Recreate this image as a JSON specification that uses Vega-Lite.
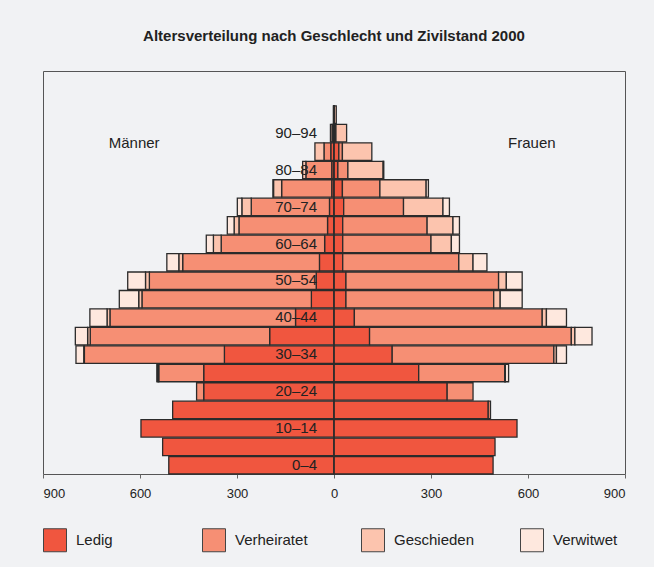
{
  "$schema": "https://vega.github.io/schema/vega-lite/v6.json",
  "width": 582,
  "height": 403,
  "autosize": {"type": "none"},
  "padding": {"left": 43, "top": 71, "right": 29, "bottom": 93},
  "background": "#f1f2f4",
  "config": {
    "font": "Liberation Sans",
    "view": {"stroke": "#555555", "strokeWidth": 1}
  },
  "title": {
    "text": "Altersverteilung nach Geschlecht und Zivilstand 2000",
    "fontSize": 15,
    "fontWeight": "bold",
    "color": "#222222",
    "anchor": "middle",
    "offset": 27
  },
  "datasets": {
    "pop": [
      {"sex": "M", "age": "0–4", "from": 0, "to": 5, "Ledig": -511, "Verheiratet": 0, "Geschieden": 0, "Verwitwet": 0},
      {"sex": "M", "age": "5–9", "from": 5, "to": 10, "Ledig": -530, "Verheiratet": 0, "Geschieden": 0, "Verwitwet": 0},
      {"sex": "M", "age": "10–14", "from": 10, "to": 15, "Ledig": -597, "Verheiratet": 0, "Geschieden": 0, "Verwitwet": 0},
      {"sex": "M", "age": "15–19", "from": 15, "to": 20, "Ledig": -499, "Verheiratet": 0, "Geschieden": 0, "Verwitwet": 0},
      {"sex": "M", "age": "20–24", "from": 20, "to": 25, "Ledig": -403, "Verheiratet": -22, "Geschieden": 0, "Verwitwet": 0},
      {"sex": "M", "age": "25–29", "from": 25, "to": 30, "Ledig": -403, "Verheiratet": -139, "Geschieden": -3, "Verwitwet": -3},
      {"sex": "M", "age": "30–34", "from": 30, "to": 35, "Ledig": -339, "Verheiratet": -433, "Geschieden": -2, "Verwitwet": -24},
      {"sex": "M", "age": "35–39", "from": 35, "to": 40, "Ledig": -199, "Verheiratet": -555, "Geschieden": -8, "Verwitwet": -38},
      {"sex": "M", "age": "40–44", "from": 40, "to": 45, "Ledig": -119, "Verheiratet": -574, "Geschieden": -9, "Verwitwet": -53},
      {"sex": "M", "age": "45–49", "from": 45, "to": 50, "Ledig": -70, "Verheiratet": -524, "Geschieden": -10, "Verwitwet": -60},
      {"sex": "M", "age": "50–54", "from": 50, "to": 55, "Ledig": -55, "Verheiratet": -516, "Geschieden": -12, "Verwitwet": -55},
      {"sex": "M", "age": "55–59", "from": 55, "to": 60, "Ledig": -45, "Verheiratet": -423, "Geschieden": -12, "Verwitwet": -37},
      {"sex": "M", "age": "60–64", "from": 60, "to": 65, "Ledig": -29, "Verheiratet": -320, "Geschieden": -24, "Verwitwet": -22},
      {"sex": "M", "age": "65–69", "from": 65, "to": 70, "Ledig": -20, "Verheiratet": -274, "Geschieden": -15, "Verwitwet": -21},
      {"sex": "M", "age": "70–74", "from": 70, "to": 75, "Ledig": -14, "Verheiratet": -242, "Geschieden": -29, "Verwitwet": -14},
      {"sex": "M", "age": "75–79", "from": 75, "to": 80, "Ledig": -7, "Verheiratet": -155, "Geschieden": -25, "Verwitwet": -2},
      {"sex": "M", "age": "80–84", "from": 80, "to": 85, "Ledig": -7, "Verheiratet": -80, "Geschieden": -10, "Verwitwet": 0},
      {"sex": "M", "age": "85–89", "from": 85, "to": 90, "Ledig": -10, "Verheiratet": -21, "Geschieden": -28, "Verwitwet": 0},
      {"sex": "M", "age": "90–94", "from": 90, "to": 95, "Ledig": -2, "Verheiratet": -4, "Geschieden": -5, "Verwitwet": 0},
      {"sex": "M", "age": "95+", "from": 95, "to": 100, "Ledig": 0, "Verheiratet": -1, "Geschieden": -1, "Verwitwet": 0},
      {"sex": "F", "age": "0–4", "from": 0, "to": 5, "Ledig": 492, "Verheiratet": 0, "Geschieden": 0, "Verwitwet": 0},
      {"sex": "F", "age": "5–9", "from": 5, "to": 10, "Ledig": 498, "Verheiratet": 0, "Geschieden": 0, "Verwitwet": 0},
      {"sex": "F", "age": "10–14", "from": 10, "to": 15, "Ledig": 566, "Verheiratet": 0, "Geschieden": 0, "Verwitwet": 0},
      {"sex": "F", "age": "15–19", "from": 15, "to": 20, "Ledig": 477, "Verheiratet": 7, "Geschieden": 0, "Verwitwet": 0},
      {"sex": "F", "age": "20–24", "from": 20, "to": 25, "Ledig": 350, "Verheiratet": 80, "Geschieden": 0, "Verwitwet": 0},
      {"sex": "F", "age": "25–29", "from": 25, "to": 30, "Ledig": 262, "Verheiratet": 266, "Geschieden": 2, "Verwitwet": 10},
      {"sex": "F", "age": "30–34", "from": 30, "to": 35, "Ledig": 180, "Verheiratet": 500, "Geschieden": 8, "Verwitwet": 31},
      {"sex": "F", "age": "35–39", "from": 35, "to": 40, "Ledig": 110, "Verheiratet": 624, "Geschieden": 11, "Verwitwet": 53},
      {"sex": "F", "age": "40–44", "from": 40, "to": 45, "Ledig": 63, "Verheiratet": 581, "Geschieden": 13, "Verwitwet": 62},
      {"sex": "F", "age": "45–49", "from": 45, "to": 50, "Ledig": 37, "Verheiratet": 457, "Geschieden": 20, "Verwitwet": 68},
      {"sex": "F", "age": "50–54", "from": 50, "to": 55, "Ledig": 37, "Verheiratet": 472, "Geschieden": 24, "Verwitwet": 49},
      {"sex": "F", "age": "55–59", "from": 55, "to": 60, "Ledig": 27, "Verheiratet": 359, "Geschieden": 44, "Verwitwet": 43},
      {"sex": "F", "age": "60–64", "from": 60, "to": 65, "Ledig": 27, "Verheiratet": 273, "Geschieden": 63, "Verwitwet": 25},
      {"sex": "F", "age": "65–69", "from": 65, "to": 70, "Ledig": 27, "Verheiratet": 261, "Geschieden": 80, "Verwitwet": 20},
      {"sex": "F", "age": "70–74", "from": 70, "to": 75, "Ledig": 30, "Verheiratet": 185, "Geschieden": 122, "Verwitwet": 20},
      {"sex": "F", "age": "75–79", "from": 75, "to": 80, "Ledig": 26, "Verheiratet": 116, "Geschieden": 143, "Verwitwet": 7},
      {"sex": "F", "age": "80–84", "from": 80, "to": 85, "Ledig": 12, "Verheiratet": 31, "Geschieden": 109, "Verwitwet": 2},
      {"sex": "F", "age": "85–89", "from": 85, "to": 90, "Ledig": 15, "Verheiratet": 11, "Geschieden": 91, "Verwitwet": 0},
      {"sex": "F", "age": "90–94", "from": 90, "to": 95, "Ledig": 2, "Verheiratet": 4, "Geschieden": 33, "Verwitwet": 0},
      {"sex": "F", "age": "95+", "from": 95, "to": 100, "Ledig": 1, "Verheiratet": 0, "Geschieden": 6, "Verwitwet": 0}
    ]
  },
  "layer": [
    {
      "data": {"name": "pop"},
      "transform": [
        {"fold": ["Ledig", "Verheiratet", "Geschieden", "Verwitwet"], "as": ["status", "value"]},
        {"filter": "datum.value != 0"},
        {
          "lookup": "status",
          "from": {
            "data": {"values": [
              {"status": "Ledig", "k": 1},
              {"status": "Verheiratet", "k": 2},
              {"status": "Geschieden", "k": 3},
              {"status": "Verwitwet", "k": 4}
            ]},
            "key": "status",
            "fields": ["k"]
          }
        }
      ],
      "mark": {"type": "bar", "stroke": "#2b2b2b", "strokeWidth": 1.3, "binSpacing": 1},
      "encoding": {
        "y": {
          "field": "from",
          "type": "quantitative",
          "bin": {"binned": true},
          "scale": {"domain": [0, 109.2], "nice": false, "zero": false},
          "axis": null
        },
        "y2": {"field": "to"},
        "x": {
          "field": "value",
          "type": "quantitative",
          "stack": "zero",
          "scale": {"domain": [-900, 900], "nice": false},
          "axis": {
            "values": [-900, -600, -300, 0, 300, 600, 900],
            "labelExpr": "format(abs(datum.value), 'd')",
            "title": null,
            "domain": false,
            "grid": false,
            "tickSize": 4,
            "tickColor": "#666666",
            "labelFontSize": 13,
            "labelColor": "#222222",
            "labelPadding": 9,
            "labelFlush": true
          }
        },
        "color": {
          "field": "status",
          "type": "nominal",
          "scale": {
            "domain": ["Ledig", "Verheiratet", "Geschieden", "Verwitwet"],
            "range": ["#f0563f", "#f68f74", "#fcc4ae", "#fee8de"]
          },
          "legend": {
            "orient": "bottom",
            "direction": "horizontal",
            "columns": 4,
            "title": null,
            "symbolType": "square",
            "symbolSize": 529,
            "symbolStrokeColor": "#444444",
            "symbolStrokeWidth": 1,
            "labelFontSize": 15,
            "labelColor": "#222222",
            "labelOffset": 9,
            "columnPadding": 43,
            "gridAlign": "all",
            "offset": 28
          }
        },
        "order": {"field": "k", "type": "quantitative"}
      }
    },
    {
      "data": {"values": [{}]},
      "mark": {"type": "rule", "stroke": "#2b2b2b", "strokeWidth": 1.3},
      "encoding": {
        "x": {"datum": 0},
        "y": {"datum": 0},
        "y2": {"datum": 100}
      }
    },
    {
      "data": {"name": "pop"},
      "transform": [
        {"filter": "datum.sex == 'M' && datum.from % 10 == 0 && datum.from < 95"}
      ],
      "mark": {"type": "text", "align": "right", "baseline": "middle", "dx": -17, "dy": -9, "fontSize": 15, "color": "#222222"},
      "encoding": {
        "x": {"datum": 0},
        "y": {"field": "from", "type": "quantitative"},
        "text": {"field": "age"}
      }
    },
    {
      "data": {"values": [{}]},
      "mark": {"type": "text", "align": "center", "baseline": "middle", "fontSize": 15, "color": "#222222"},
      "encoding": {
        "x": {"datum": -618},
        "y": {"datum": 89.7},
        "text": {"value": "Männer"}
      }
    },
    {
      "data": {"values": [{}]},
      "mark": {"type": "text", "align": "center", "baseline": "middle", "fontSize": 15, "color": "#222222"},
      "encoding": {
        "x": {"datum": 612},
        "y": {"datum": 89.7},
        "text": {"value": "Frauen"}
      }
    }
  ]
}
